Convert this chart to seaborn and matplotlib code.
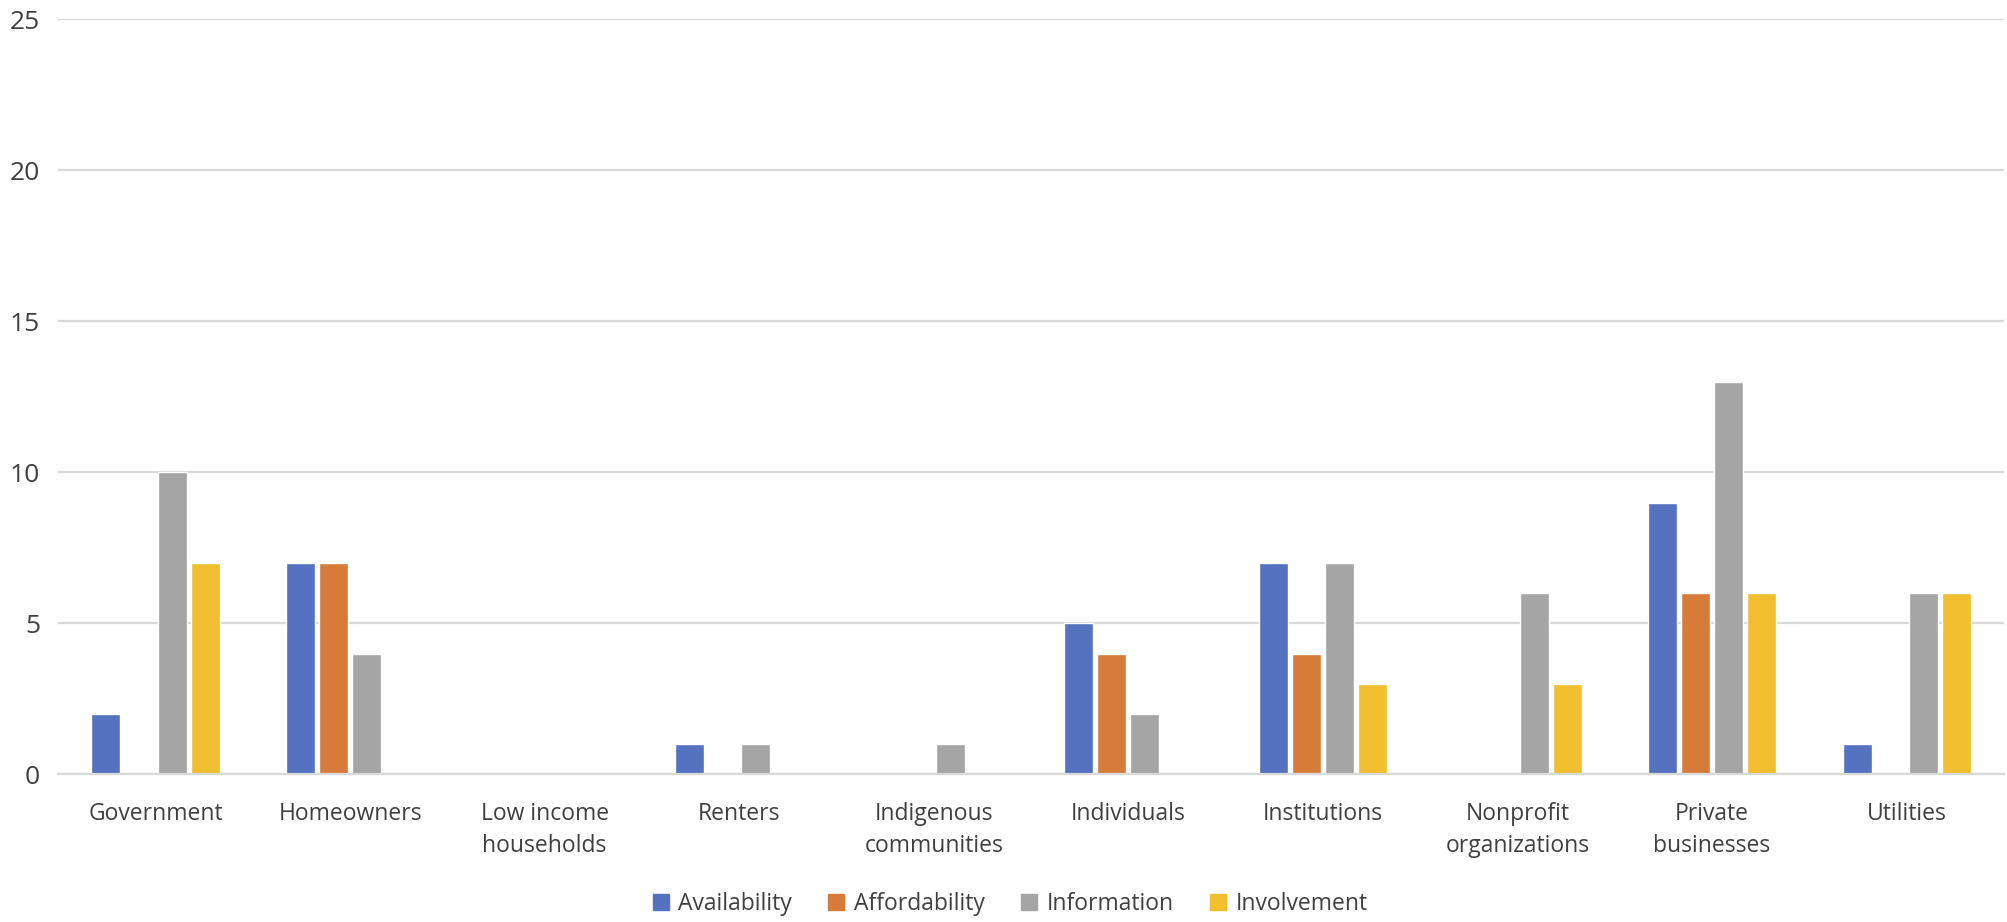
import numpy as np
import pandas as pd
import matplotlib
matplotlib.use("Agg")
import matplotlib.pyplot as plt
import seaborn as sns

CATEGORIES = [
    "Government", "Homeowners", "Low income\nhouseholds", "Renters",
    "Indigenous\ncommunities", "Individuals", "Institutions",
    "Nonprofit\norganizations", "Private\nbusinesses", "Utilities",
]
SERIES = ["Availability", "Affordability", "Information", "Involvement"]

availability  = [2, 7, 0, 1, 0, 5, 7, 0, 9, 1]
affordability = [0, 7, 0, 0, 0, 4, 4, 0, 6, 0]
information   = [10, 4, 0, 1, 1, 2, 7, 6, 13, 6]
involvement   = [7, 0, 0, 0, 0, 0, 3, 3, 6, 6]

COLORS = ["#5572C0", "#D77B3A", "#A5A5A5", "#F0BE2E"]

values = {
    "Availability": availability,
    "Affordability": affordability,
    "Information": information,
    "Involvement": involvement,
}
rows = []
for s in SERIES:
    for c, v in zip(CATEGORIES, values[s]):
        rows.append({"category": c, "series": s, "value": v})
df = pd.DataFrame(rows)

sns.set_style("white")
plt.rcParams["font.family"] = ["Open Sans", "DejaVu Sans"]

fig = plt.figure(figsize=(20.08, 9.22), dpi=100)
ax = fig.add_axes([0.029, 0.16, 0.969, 0.819])

sns.barplot(
    data=df, x="category", y="value", hue="series",
    order=CATEGORIES, hue_order=SERIES, palette=COLORS, saturation=1,
    width=0.68, gap=0.12, ax=ax, legend=False,
)

ax.set_ylim(0, 25)
ax.set_yticks(np.arange(0, 26, 5))
ax.set_xlim(-0.5, len(CATEGORIES) - 0.5)
ax.yaxis.grid(True, color="#D9D9D9", linewidth=1.6)
ax.set_axisbelow(True)
for side in ["top", "right", "left"]:
    ax.spines[side].set_visible(False)
ax.spines["bottom"].set_color("#D9D9D9")
ax.spines["bottom"].set_linewidth(1.6)
ax.set_xlabel("")
ax.set_ylabel("")
ax.tick_params(axis="x", length=0, labelsize=16.5, colors="#404040", pad=20)
ax.tick_params(axis="y", length=0, labelsize=19, colors="#404040", pad=13)
for lbl in ax.get_xticklabels():
    lbl.set_linespacing(1.45)

handles = [plt.Rectangle((0, 0), 1, 1, color=c) for c in COLORS]
fig.legend(
    handles, SERIES, loc="center", bbox_to_anchor=(0.503, 0.02), ncol=4,
    frameon=False, fontsize=16.5, handlelength=0.7, handleheight=0.7,
    handletextpad=0.4, columnspacing=1.6, labelcolor="#404040",
)

fig.savefig("out.png", dpi=100)
